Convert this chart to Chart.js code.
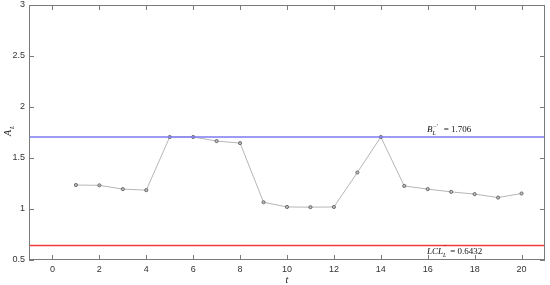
<!DOCTYPE html>
<html>
<head>
<meta charset="utf-8">
<script src="https://cdn.jsdelivr.net/npm/chart.js@4/dist/chart.umd.min.js"></script>
<style>
  html, body { margin: 0; padding: 0; background: #fff; }
  #wrap { width: 550px; height: 285px; position: relative; }
</style>
</head>
<body>
<div id="wrap"><canvas id="chart"></canvas></div>
<script>
// data
const tValues = [1, 2, 3, 4, 5, 6, 7, 8, 9, 10, 11, 12, 13, 14, 15, 16, 17, 18, 19, 20];
const aValues = [1.235, 1.232, 1.195, 1.185, 1.706, 1.706, 1.666, 1.646, 1.066, 1.02, 1.018, 1.02, 1.358, 1.706, 1.226, 1.195, 1.168, 1.146, 1.112, 1.152];
const upperLimit = 1.706;
const lowerLimit = 0.6432;
const xRange = [-1, 21];
const yRange = [0.5, 3];
const xTicks = [0, 2, 4, 6, 8, 10, 12, 14, 16, 18, 20];
const yTicks = [0.5, 1, 1.5, 2, 2.5, 3];

const axisColor = "#7a7a7a";

// box around the plot with inward ticks, like the original figure
const frameTicks = {
    id: "frameTicks",
    afterDraw(chart) {
        const { ctx, chartArea: a, scales } = chart;
        ctx.save();
        ctx.strokeStyle = axisColor;
        ctx.lineWidth = 1;
        ctx.strokeRect(a.left + 0.5, a.top + 0.5, a.right - a.left - 1, a.bottom - a.top - 1);
        ctx.beginPath();
        xTicks.forEach(v => {
            const x = Math.round(scales.x.getPixelForValue(v)) + 0.5;
            ctx.moveTo(x, a.bottom); ctx.lineTo(x, a.bottom - 5);
            ctx.moveTo(x, a.top); ctx.lineTo(x, a.top + 5);
        });
        yTicks.forEach(v => {
            const y = Math.round(scales.y.getPixelForValue(v)) + 0.5;
            ctx.moveTo(a.left, y); ctx.lineTo(a.left + 5, y);
            ctx.moveTo(a.right, y); ctx.lineTo(a.right - 5, y);
        });
        ctx.stroke();
        ctx.restore();
    }
};

const labelsPlugin = {
    id: "labelsPlugin",
    afterDraw(chart) {
        const { ctx, chartArea: a, scales } = chart;
        const it = "italic 9px 'Liberation Serif', serif";
        const sub = "italic 6px 'Liberation Serif', serif";
        const rm = "9px 'Liberation Serif', serif";
        ctx.save();
        ctx.fillStyle = "#111";
        ctx.textBaseline = "alphabetic";

        // B_L^{-'} = 1.706
        const yU = scales.y.getPixelForValue(upperLimit);
        let cx = 427;
        ctx.font = it; ctx.fillText("B", cx, yU - 5);
        cx += ctx.measureText("B").width;
        ctx.font = sub; ctx.fillText("L", cx, yU - 2);
        ctx.fillText("\u2212\u2032", cx, yU - 9);
        cx += 9;
        ctx.font = rm; ctx.fillText(" = 1.706", cx, yU - 5);

        // LCL_L' = 0.6432
        const yL = scales.y.getPixelForValue(lowerLimit);
        cx = 427;
        ctx.font = it; ctx.fillText("LCL", cx, yL + 9);
        cx += ctx.measureText("LCL").width;
        ctx.font = sub; ctx.fillText("L", cx, yL + 12);
        ctx.fillText("\u2032", cx + 1, yL + 4);
        cx += 5;
        ctx.font = rm; ctx.fillText(" = 0.6432", cx, yL + 9);

        // axis titles
        ctx.font = "italic 10px 'Liberation Serif', serif";
        ctx.textAlign = "center";
        ctx.fillText("t", (a.left + a.right) / 2, 283);

        ctx.translate(11, 130);
        ctx.rotate(-Math.PI / 2);
        ctx.textAlign = "left";
        ctx.font = "italic 10px 'Liberation Serif', serif"; ctx.fillText("A", -6, 0);
        ctx.font = sub; ctx.fillText("L", 1, 3);
        ctx.restore();
    }
};

new Chart(document.getElementById("chart"), {
    type: "line",
    data: {
        datasets: [
            {
                label: "A_L",
                data: tValues.map((t, i) => ({ x: t, y: aValues[i] })),
                borderColor: "#b5b5b5",
                borderWidth: 1,
                pointRadius: 1.6,
                pointBorderWidth: 0.8,
                pointBorderColor: "#555",
                pointBackgroundColor: "#bbb",
                tension: 0,
                order: 2
            },
            {
                label: "upper",
                data: xRange.map(x => ({ x: x, y: upperLimit })),
                borderColor: "#7b7bf0",
                borderWidth: 1.5,
                pointRadius: 0,
                order: 1
            },
            {
                label: "lower",
                data: xRange.map(x => ({ x: x, y: lowerLimit })),
                borderColor: "#f03c3c",
                borderWidth: 1.5,
                pointRadius: 0,
                order: 1
            }
        ]
    },
    options: {
        responsive: true,
        maintainAspectRatio: false,
        animation: false,
        layout: { padding: { top: 5, right: 5, left: 0, bottom: 0 } },
        plugins: {
            legend: { display: false },
            tooltip: { enabled: false }
        },
        scales: {
            x: {
                type: "linear",
                min: xRange[0],
                max: xRange[1],
                grid: { display: false, drawTicks: false },
                border: { display: false },
                afterBuildTicks: s => { s.ticks = xTicks.map(v => ({ value: v })); },
                afterFit: s => { s.height = 25; s.paddingLeft = 0; s.paddingRight = 0; },
                ticks: {
                    padding: 4,
                    color: "#333",
                    font: { family: "'Liberation Sans', Arial, sans-serif", size: 9 },
                    maxRotation: 0
                }
            },
            y: {
                min: yRange[0],
                max: yRange[1],
                grid: { display: false, drawTicks: false },
                border: { display: false },
                afterBuildTicks: s => { s.ticks = yTicks.map(v => ({ value: v })); },
                afterFit: s => { s.width = 29; s.paddingTop = 0; s.paddingBottom = 0; },
                ticks: {
                    padding: 4,
                    color: "#333",
                    font: { family: "'Liberation Sans', Arial, sans-serif", size: 9 },
                    callback: v => String(v)
                }
            }
        }
    },
    plugins: [frameTicks, labelsPlugin]
});
</script>
</body>
</html>
